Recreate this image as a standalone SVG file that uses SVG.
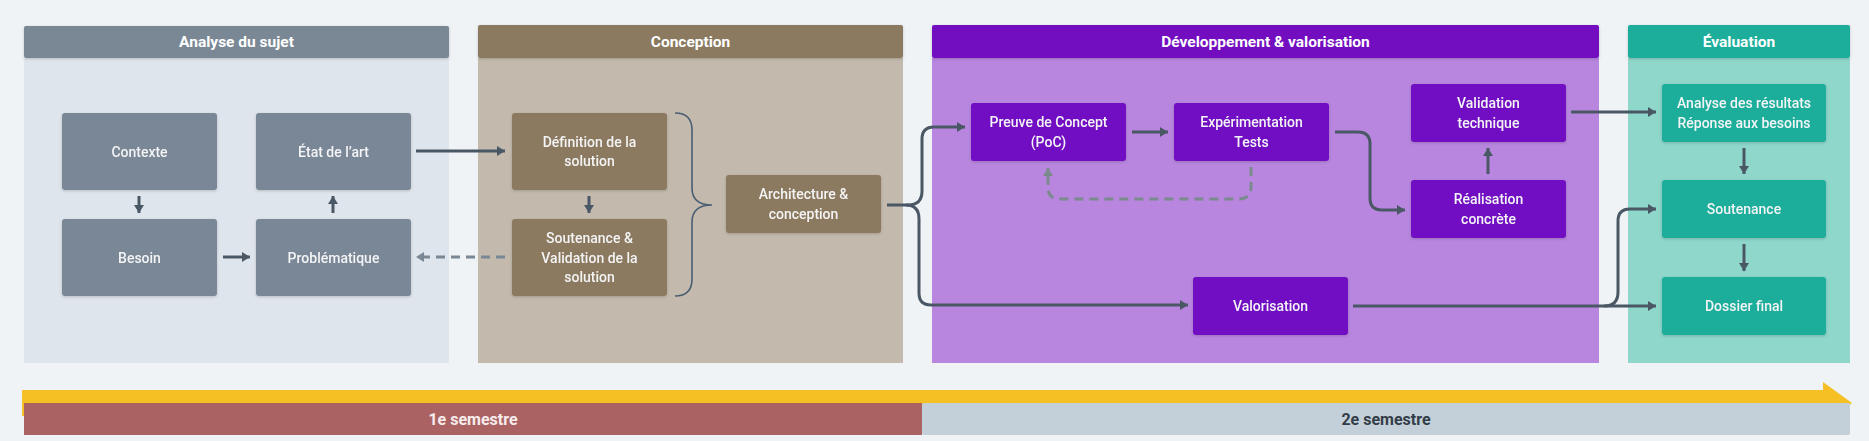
<svg xmlns="http://www.w3.org/2000/svg" width="1869" height="441" viewBox="0 0 1869 441">
<defs>
<filter id="sh" x="-10%" y="-20%" width="120%" height="150%">
<feDropShadow dx="0" dy="1" stdDeviation="1.5" flood-color="#000" flood-opacity="0.18"/>
</filter>
<marker id="ah" markerUnits="userSpaceOnUse" markerWidth="10" markerHeight="10" refX="8" refY="5" orient="auto">
<path d="M0,0 L8,5 L0,10 z" fill="#4a5866"/>
</marker>
<marker id="ahg" markerUnits="userSpaceOnUse" markerWidth="10" markerHeight="10" refX="8" refY="5" orient="auto">
<path d="M0,0 L8,5 L0,10 z" fill="#7a8896"/>
</marker>
<marker id="ahl" markerUnits="userSpaceOnUse" markerWidth="10" markerHeight="10" refX="8" refY="5" orient="auto">
<path d="M0,0 L8,5 L0,10 z" fill="#7b8a8c"/>
</marker>
</defs>
<style>
.hdr{font-family:Roboto,"Liberation Sans",sans-serif;font-weight:700;font-size:15.5px;fill:#ffffff;text-anchor:middle;dominant-baseline:central}
.nt{font-family:Roboto,"Liberation Sans",sans-serif;font-weight:500;font-size:14px;fill:#f4f4f6;text-anchor:middle;dominant-baseline:central}
.node{filter:url(#sh)}
.c{fill:none;stroke:#4a5866;stroke-width:3;marker-end:url(#ah)}
.dash{fill:none;stroke:#7a8896;stroke-width:3;stroke-dasharray:9,6;marker-end:url(#ahg)}
.dash2{fill:none;stroke:#7b8a8c;stroke-width:3;stroke-dasharray:9,6;marker-end:url(#ahl)}
.brace{fill:none;stroke:#4a5e72;stroke-width:1.6}
.sem{font-family:Roboto,"Liberation Sans",sans-serif;font-weight:700;font-size:16px;text-anchor:middle;dominant-baseline:central}
</style>
<rect x="0" y="0" width="1869" height="441" fill="#eff3f6"/>

<!-- Phase panels -->
<g id="phase-analyse">
<rect x="24" y="58" width="425" height="305" fill="#dfe5ec"/>
<rect x="24" y="26" width="425" height="32" rx="2" fill="#7a8896" filter="url(#sh)"/>
<text class="hdr" x="236.5" y="42">Analyse du sujet</text>
</g>
<g id="phase-conception">
<rect x="478" y="58" width="425" height="305" fill="#c3baad"/>
<rect x="478" y="25" width="425" height="33" rx="2" fill="#8b7a5e" filter="url(#sh)"/>
<text class="hdr" x="690.5" y="42">Conception</text>
</g>
<g id="phase-dev">
<rect x="932" y="58" width="667" height="305" fill="#b886df"/>
<rect x="932" y="25" width="667" height="33" rx="2" fill="#7210c0" filter="url(#sh)"/>
<text class="hdr" x="1265.5" y="42">Développement &amp; valorisation</text>
</g>
<g id="phase-eval">
<rect x="1628" y="58" width="222" height="305" fill="#8fd6cb"/>
<rect x="1628" y="25" width="222" height="33" rx="2" fill="#1aae9b" filter="url(#sh)"/>
<text class="hdr" x="1739" y="42">Évaluation</text>
</g>

<!-- Timeline -->
<g id="timeline">
<polygon points="22,390 1823,390 1823,382 1852,403 1823,424 1823,416 22,416" fill="#f5c023"/>
<rect x="24" y="403" width="898" height="32" fill="#ab6262"/>
<rect x="922" y="403" width="928" height="32" rx="2" fill="#c3d0da"/>
<text class="sem" x="473" y="419" fill="#f7ecec">1e semestre</text>
<text class="sem" x="1386" y="419" fill="#333d47">2e semestre</text>
</g>

<!-- Connectors -->
<g id="connectors">
<path class="c" d="M139,196 L139,213"/>
<path class="c" d="M223,257 L250,257"/>
<path class="c" d="M333,213 L333,196"/>
<path class="c" d="M416,151 L505,151"/>
<path class="dash" d="M505,257 L416,257"/>
<path class="c" d="M589,196 L589,213"/>
<path class="brace" d="M675,113 Q692,113 692,130 L692,188 Q692,205 712,205 Q692,205 692,222 L692,279 Q692,296 675,296"/>
<path class="c" d="M887,205 L908,205 Q922,205 922,191 L922,139 Q922,127 934,127 L965,127"/>
<path class="c" d="M906,205 Q919,205 919,219 L919,293 Q919,305 931,305 L1188,305"/>
<path class="c" d="M1132,132 L1168,132"/>
<path class="c" d="M1335,132 L1358,132 Q1370,132 1370,144 L1370,198 Q1370,210 1382,210 L1405,210"/>
<path class="dash2" d="M1251,167 L1251,187 Q1251,199 1239,199 L1060,199 Q1048,199 1048,187 L1048,168"/>
<path class="c" d="M1488,174 L1488,148"/>
<path class="c" d="M1571,112 L1656,112"/>
<path class="c" d="M1353,306 L1656,306"/>
<path class="c" d="M1604,306 Q1618,306 1618,292 L1618,221 Q1618,209 1630,209 L1656,209"/>
<path class="c" d="M1744,148 L1744,174"/>
<path class="c" d="M1744,244 L1744,271"/>
</g>

<!-- Nodes -->
<g id="n-contexte" class="node"><rect x="62" y="113" width="155" height="77" rx="3" fill="#7a8796"/><text class="nt" x="139.5" y="151.5">Contexte</text></g>
<g id="n-etat" class="node"><rect x="256" y="113" width="155" height="77" rx="3" fill="#7a8796"/><text class="nt" x="333.5" y="151.5">État de l’art</text></g>
<g id="n-besoin" class="node"><rect x="62" y="219" width="155" height="77" rx="3" fill="#7a8796"/><text class="nt" x="139.5" y="257.5">Besoin</text></g>
<g id="n-problematique" class="node"><rect x="256" y="219" width="155" height="77" rx="3" fill="#7a8796"/><text class="nt" x="333.5" y="257.5">Problématique</text></g>

<g id="n-definition" class="node"><rect x="512" y="113" width="155" height="77" rx="3" fill="#8b7a5e"/><text class="nt" x="589.5" y="142">Définition de la</text><text class="nt" x="589.5" y="161">solution</text></g>
<g id="n-soutenance-validation" class="node"><rect x="512" y="219" width="155" height="77" rx="3" fill="#8b7a5e"/><text class="nt" x="589.5" y="238">Soutenance &amp;</text><text class="nt" x="589.5" y="258">Validation de la</text><text class="nt" x="589.5" y="277">solution</text></g>
<g id="n-architecture" class="node"><rect x="726" y="175" width="155" height="58" rx="3" fill="#8b7a5e"/><text class="nt" x="803.5" y="194">Architecture &amp;</text><text class="nt" x="803.5" y="214">conception</text></g>

<g id="n-poc" class="node"><rect x="971" y="103" width="155" height="58" rx="3" fill="#7110c2"/><text class="nt" x="1048.5" y="122">Preuve de Concept</text><text class="nt" x="1048.5" y="142">(PoC)</text></g>
<g id="n-experimentation" class="node"><rect x="1174" y="103" width="155" height="58" rx="3" fill="#7110c2"/><text class="nt" x="1251.5" y="122">Expérimentation</text><text class="nt" x="1251.5" y="142">Tests</text></g>
<g id="n-valorisation" class="node"><rect x="1193" y="277" width="155" height="58" rx="3" fill="#7110c2"/><text class="nt" x="1270.5" y="306">Valorisation</text></g>
<g id="n-validation-technique" class="node"><rect x="1411" y="84" width="155" height="58" rx="3" fill="#7110c2"/><text class="nt" x="1488.5" y="103">Validation</text><text class="nt" x="1488.5" y="123">technique</text></g>
<g id="n-realisation" class="node"><rect x="1411" y="180" width="155" height="58" rx="3" fill="#7110c2"/><text class="nt" x="1488.5" y="199">Réalisation</text><text class="nt" x="1488.5" y="219">concrète</text></g>

<g id="n-analyse-resultats" class="node"><rect x="1662" y="84" width="164" height="58" rx="3" fill="#1aae9b"/><text class="nt" x="1744" y="103">Analyse des résultats</text><text class="nt" x="1744" y="123">Réponse aux besoins</text></g>
<g id="n-soutenance" class="node"><rect x="1662" y="180" width="164" height="58" rx="3" fill="#1aae9b"/><text class="nt" x="1744" y="209">Soutenance</text></g>
<g id="n-dossier" class="node"><rect x="1662" y="277" width="164" height="58" rx="3" fill="#1aae9b"/><text class="nt" x="1744" y="306">Dossier final</text></g>
</svg>
